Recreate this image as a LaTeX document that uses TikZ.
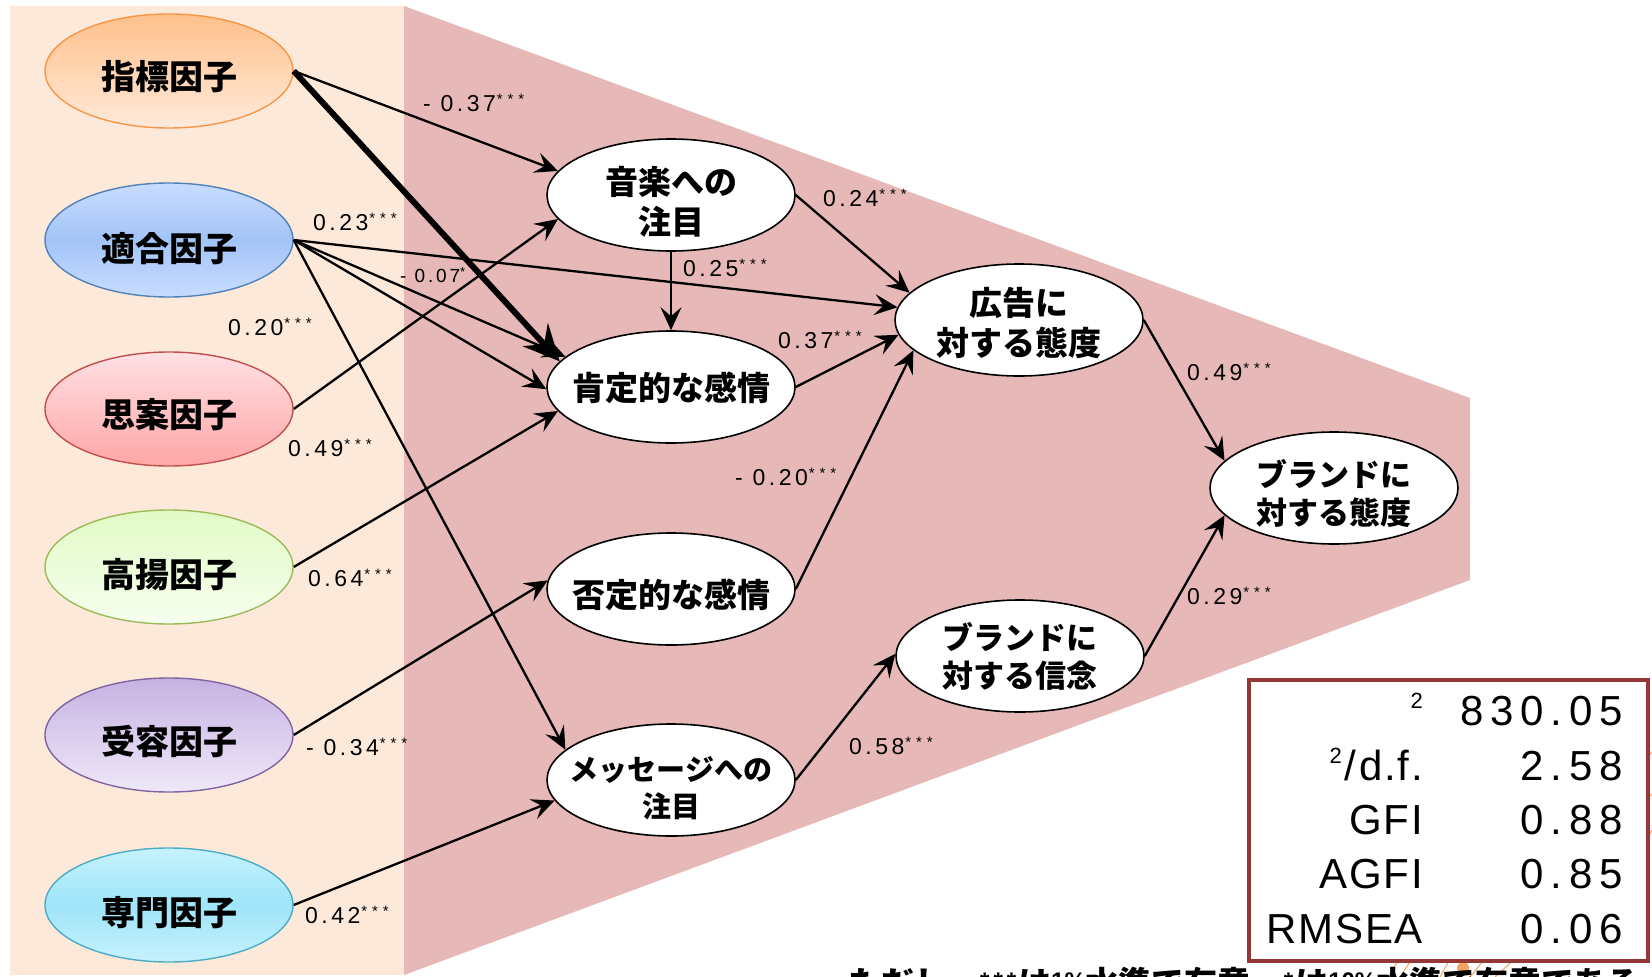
\documentclass[tikz,border=0pt]{standalone}
\usepackage{fontspec}
\setmainfont{Liberation Sans}
\newfontfamily\jp{Noto Sans CJK JP}
\newfontfamily\lblfont{Liberation Sans}[LetterSpace=15]
\newfontfamily\statnum{Liberation Sans}[LetterSpace=16]
\newfontfamily\stattxt{Liberation Sans}[LetterSpace=4]
\usetikzlibrary{shapes.geometric,arrows.meta}
\definecolor{beige}{HTML}{FDE9DA}
\definecolor{pinkbg}{HTML}{E6B8B7}
\definecolor{boxred}{HTML}{953735}
\definecolor{sketch}{HTML}{F4A460}
\definecolor{zbD}{HTML}{F79646}\definecolor{zbT}{HTML}{FFC08A}\definecolor{zbB}{HTML}{FFEADB}
\definecolor{tgD}{HTML}{4F81BD}\definecolor{tgT}{HTML}{C8DCFF}\definecolor{tgM}{HTML}{A3C4F7}
\definecolor{saD}{HTML}{C0504D}\definecolor{saT}{HTML}{FFE0E4}\definecolor{saB}{HTML}{FFA6A6}
\definecolor{kyD}{HTML}{9BBB59}\definecolor{kyT}{HTML}{E2FAC6}\definecolor{kyB}{HTML}{F6FFEE}
\definecolor{jyD}{HTML}{8064A2}\definecolor{jyT}{HTML}{C6B2E2}\definecolor{jyB}{HTML}{EFE8F9}
\definecolor{smD}{HTML}{4BACC6}\definecolor{smT}{HTML}{C6F2FD}\definecolor{smM}{HTML}{9FE5F9}
\newcommand\sss{\kern1pt\raisebox{7pt}{\rmfamily\fontsize{15}{15}\selectfont *\kern5pt*\kern5pt*}}
\newcommand\sone{\raisebox{6pt}{\rmfamily\fontsize{13}{13}\selectfont *}}
\newcommand\sqtwo{\raisebox{17pt}{\fontsize{22}{22}\selectfont 2}}
\newcommand\lat[1]{\raisebox{6pt}{\rmfamily\bfseries\fontsize{24}{24}\selectfont #1}}
\begin{document}
\begin{tikzpicture}[x=1pt,y=-1pt,
  fac/.style={ellipse, draw, line width=1.4pt, minimum width=248pt, minimum height=114pt, inner sep=0pt},
  factxt/.style={font=\jp\bfseries\fontsize{34}{40}\selectfont, align=center, inner sep=0pt},
  mid/.style={ellipse, draw, fill=white, line width=1.6pt, minimum width=248pt, minimum height=112pt, inner sep=0pt},
  midtxt/.style={font=\jp\bfseries\fontsize{33}{40}\selectfont, align=center, inner sep=0pt},
  arr/.style={line width=2.3pt, -{Stealth[length=23pt,width=21pt,inset=9pt]}},
  arrthick/.style={line width=6pt, -{Stealth[length=36pt,width=34pt,inset=13pt]}},
  lbl/.style={font=\lblfont\fontsize{23}{23}\selectfont, inner sep=0pt, anchor=base west},
  statr/.style={font=\statnum\fontsize{42}{42}\selectfont, inner sep=0pt, anchor=base east},
  statl/.style={font=\stattxt\fontsize{42}{42}\selectfont, inner sep=0pt, anchor=base east},
  decor/.style={draw=sketch, line width=1pt}
]
\useasboundingbox (0,0) rectangle (1652,977);
\clip (0,0) rectangle (1652,977);
\fill[white] (0,0) rectangle (1652,977);
% backgrounds
\fill[beige] (10,6) rectangle (404,975);
\fill[pinkbg] (404,6) -- (1470,398) -- (1470,580) -- (404,975) -- cycle;

% left factor ellipses
\node[fac, draw=zbD, top color=zbT, bottom color=zbB] (zb) at (169,71) {};
\node[fac, draw=tgD, top color=tgT, bottom color=tgT, middle color=tgM] (tg) at (169,240) {};
\node[fac, draw=saD, top color=saT, bottom color=saB] (sa) at (169,409) {};
\node[fac, draw=kyD, top color=kyT, bottom color=kyB] (ky) at (169,567) {};
\node[fac, draw=jyD, top color=jyT, bottom color=jyB] (jy) at (169,735) {};
\node[fac, draw=smD, top color=smT, bottom color=smT, middle color=smM] (sm) at (169,905) {};
\node[factxt] (zbt) at (169,77) {指標因子};
\node[factxt] (tgt) at (169,249) {適合因子};
\node[factxt] (sat) at (169,415) {思案因子};
\node[factxt] (kyt) at (169,575) {高揚因子};
\node[factxt] (jyt) at (169,742) {受容因子};
\node[factxt] (smt) at (169,913) {専門因子};

% middle ellipses
\node[mid] (on) at (671,195) {};
\node[mid] (kt) at (671,387) {};
\node[mid] (ht) at (671,589) {};
\node[mid] (ms) at (671,780) {};
\node[mid] (kk) at (1019,320) {};
\node[mid] (bs) at (1020,656) {};
\node[mid] (ba) at (1334,488) {};
\node[midtxt] (ont) at (671,202) {音楽への\\注目};
\node[midtxt] (ktt) at (671,388) {肯定的な感情};
\node[midtxt] (htt) at (671,595) {否定的な感情};
\node[midtxt, font=\jp\bfseries\fontsize{29}{37}\selectfont] (mst) at (671,788) {メッセージへの\\注目};
\node[midtxt] (kkt) at (1019,323) {広告に\\対する態度};
\node[midtxt, font=\jp\bfseries\fontsize{31}{38}\selectfont] (bst) at (1020,656) {ブランドに\\対する信念};
\node[midtxt, font=\jp\bfseries\fontsize{31}{38}\selectfont] (bat) at (1334,493) {ブランドに\\対する態度};

% labels
\node[lbl] (l1) at (423,111) {- 0.37\sss};
\node[lbl] (l2) at (823,206) {0.24\sss};
\node[lbl] (l3) at (313,230) {0.23\sss};
\node[lbl] (l4) at (683,276) {0.25\sss};
\node[lbl, font=\lblfont\fontsize{19}{19}\selectfont] (l5) at (400,282) {- 0.07\sone};
\node[lbl] (l6) at (228,335) {0.20\sss};
\node[lbl] (l7) at (778,348) {0.37\sss};
\node[lbl] (l8) at (288,456) {0.49\sss};
\node[lbl] (l9) at (735,485) {- 0.20\sss};
\node[lbl] (l10) at (1187,380) {0.49\sss};
\node[lbl] (l11) at (308,586) {0.64\sss};
\node[lbl] (l12) at (1187,604) {0.29\sss};
\node[lbl] (l13) at (306,755) {- 0.34\sss};
\node[lbl] (l14) at (849,754) {0.58\sss};
\node[lbl] (l15) at (305,923) {0.42\sss};

% connectors
\draw[arr] (zb.east) -- (on.168);
\draw[arr] (tg.east) -- (kk.174);
\draw[arr] (tg.east) -- (kt.164);
\draw[arr] (tg.east) -- (kt.181);
\draw[arr] (tg.east) -- (ms.164);
\draw[arr] (sa.east) -- (on.192);
\draw[arr] (ky.east) -- (kt.192);
\draw[arr] (jy.east) -- (ht.176);
\draw[arr] (sm.east) -- (ms.190);
\draw[arr] (on.east) -- (kk.166);
\draw[arr] (on.south) -- (kt.north);
\draw[arr] (kt.east) -- (kk.187);
\draw[arr] (ht.east) -- (kk.196);
\draw[arr] (ms.east) -- (bs.179);
\draw[arr] (kk.east) -- (ba.166);
\draw[arr] (bs.east) -- (ba.194);
\draw[arrthick] (zb.east) -- (kt.167);

% sketch decoration behind the box
\draw[decor] (1388,977) -- (1412,938);
\draw[decor] (1400,977) -- (1428,935);
\draw[decor] (1440,977) -- (1455,950);
\draw[decor] (1470,977) -- (1500,940);
\draw[decor] (1495,977) -- (1530,945);
\draw[decor] (1646,760) -- (1652,752);
\draw[decor] (1646,800) -- (1652,794);
\draw[decor] (1646,840) -- (1652,830);
\fill[sketch] (1463,968) circle (6);

% statistics box
\node[draw=boxred, line width=4pt, fill=white, minimum width=399pt, minimum height=281pt, inner sep=0pt, anchor=north west] (box) at (1247,678) {};
\node[statl] (s1a) at (1423,725) {\sqtwo};
\node[statr] (s1b) at (1623,725) {830.05};
\node[statl] (s2a) at (1423,780) {\sqtwo\kern3pt/\kern3pt d.f.};
\node[statr] (s2b) at (1623,780) {2.58};
\node[statl] (s3a) at (1423,834) {GFI};
\node[statr] (s3b) at (1623,834) {0.88};
\node[statl] (s4a) at (1423,888) {AGFI};
\node[statr] (s4b) at (1623,888) {0.85};
\node[statl] (s5a) at (1423,943) {RMSEA};
\node[statr] (s5b) at (1623,943) {0.06};

% footnote (cut off at the bottom edge, as in the reference)
\node[font=\jp\bfseries\fontsize{33}{33}\selectfont, inner sep=0pt, anchor=base west] (note) at (848,995)
  {ただし、\lat{*\kern4pt*\kern4pt*}\kern2pt は\lat{1\%}水準で有意、\lat{*}\kern2pt は\lat{10\%}水準で有意である};
\end{tikzpicture}
\end{document}
